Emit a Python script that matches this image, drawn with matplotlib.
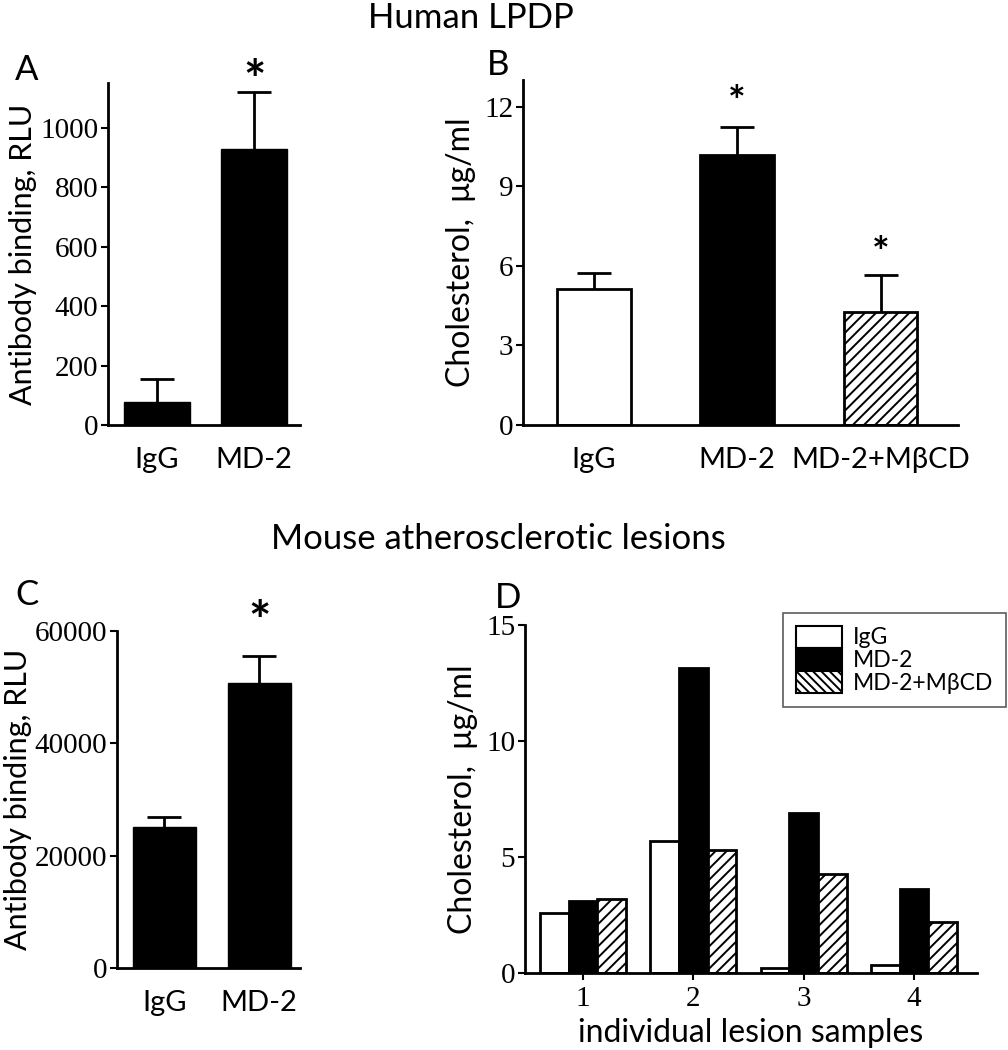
import numpy as np
import matplotlib
matplotlib.use("Agg")
import matplotlib.pyplot as plt
from matplotlib.patches import Patch

SANS = ["Lato", "DejaVu Sans"]
SERIF = ["Liberation Serif", "DejaVu Serif"]

# panel A: human LPDP antibody binding
a_groups = ["IgG", "MD-2"]
a_vals = [77, 929]
a_err = [78, 192]

# panel B: human LPDP cholesterol
b_groups = ["IgG", "MD-2", "MD-2+MβCD"]
b_vals = [5.12, 10.19, 4.25]
b_err = [0.60, 1.03, 1.41]

# panel C: mouse lesions antibody binding
c_groups = ["IgG", "MD-2"]
c_vals = [25100, 50800]
c_err = [1700, 4700]

# panel D: individual lesion samples
d_samples = [1, 2, 3, 4]
d_igg = [2.57, 5.70, 0.20, 0.34]
d_md2 = [3.10, 13.16, 6.91, 3.62]
d_mbcd = [3.19, 5.30, 4.27, 2.19]

plt.rcParams["hatch.linewidth"] = 1.4

fig = plt.figure(figsize=(10.08, 10.5), dpi=100)


def style(ax):
    for s in ["top", "right"]:
        ax.spines[s].set_visible(False)
    for s in ["left", "bottom"]:
        ax.spines[s].set_linewidth(2)
    ax.tick_params(axis="y", direction="out", length=5, width=1.5, pad=2)
    for lab in ax.get_yticklabels():
        lab.set_fontfamily(SERIF)
        lab.set_fontsize(21)


def cat_axis(ax, labels):
    ax.set_xticks(range(len(labels)))
    ax.set_xticklabels(labels, fontfamily=SANS, fontsize=21)
    ax.tick_params(axis="x", length=0, pad=16)


def errbars(ax, vals, err):
    # only the upper half of the error bar, with a cap at its top
    x = np.arange(len(vals))
    top = np.array(vals) + np.array(err)
    ax.vlines(x, vals, top, colors="k", linewidth=2, zorder=1)
    ax.plot(x, top, linestyle="none", marker="_", markersize=25,
            markeredgewidth=2, color="k", zorder=1)


# A
axA = fig.add_axes([0.1071, 0.5952, 0.1905, 0.3257])
axA.bar(range(2), a_vals, width=0.68, color="k", edgecolor="k", zorder=2)
errbars(axA, a_vals, a_err)
axA.set_ylim(0, 1150)
axA.set_xlim(-0.5, 1.47)
axA.set_yticks([0, 200, 400, 600, 800, 1000])
style(axA)
cat_axis(axA, a_groups)
axA.set_ylabel("Antibody binding, RLU", fontfamily=SANS, fontsize=22, labelpad=2)
axA.text(1, 1148, "*", ha="center", va="center", fontsize=38, fontweight="bold",
         fontfamily=SANS, clip_on=False)

# B
axB = fig.add_axes([0.5188, 0.5952, 0.4315, 0.3286])
axB.bar(range(3), b_vals, width=0.515, color=["white", "k", "white"],
        edgecolor="k", linewidth=2, hatch=[None, None, "///"], zorder=2)
errbars(axB, b_vals, b_err)
axB.set_ylim(0, 13)
axB.set_xlim(-0.495, 2.54)
axB.set_yticks([0, 3, 6, 9, 12])
style(axB)
cat_axis(axB, b_groups)
axB.set_ylabel("Cholesterol,  μg/ml", fontfamily=SANS, fontsize=23, labelpad=6)
axB.text(1, 12.1, "*", ha="center", va="center", fontsize=30, fontweight="bold",
         fontfamily=SANS)
axB.text(2, 6.4, "*", ha="center", va="center", fontsize=30, fontweight="bold",
         fontfamily=SANS)

# C
axC = fig.add_axes([0.1161, 0.0781, 0.1815, 0.3210])
axC.bar(range(2), c_vals, width=0.66, color="k", edgecolor="k", zorder=2)
errbars(axC, c_vals, c_err)
axC.set_ylim(0, 60000)
axC.set_xlim(-0.5, 1.43)
axC.set_yticks([0, 20000, 40000, 60000])
style(axC)
cat_axis(axC, c_groups)
axC.set_ylabel("Antibody binding, RLU", fontfamily=SANS, fontsize=22, labelpad=2)
axC.text(1, 61200, "*", ha="center", va="center", fontsize=38, fontweight="bold",
         fontfamily=SANS, clip_on=False)

# D
axD = fig.add_axes([0.5208, 0.0733, 0.4484, 0.3314])
x = np.array(d_samples)
w = 0.26
axD.bar(x - w, d_igg, width=w, color="white", edgecolor="k", linewidth=2, zorder=2)
axD.bar(x, d_md2, width=w, color="k", edgecolor="k", linewidth=2, zorder=2)
axD.bar(x + w, d_mbcd, width=w, color="white", edgecolor="k", linewidth=2,
        hatch="///", zorder=2)
axD.set_ylim(0, 15)
axD.set_xlim(0.475, 4.57)
axD.set_yticks([0, 5, 10, 15])
style(axD)
axD.set_xticks(d_samples)
axD.set_xticklabels([str(s) for s in d_samples], fontfamily=SERIF, fontsize=21)
axD.tick_params(axis="x", direction="out", length=5, width=1.5, pad=4)
axD.set_xlabel("individual lesion samples", fontfamily=SANS, fontsize=23, labelpad=5)
axD.set_ylabel("Cholesterol,  μg/ml", fontfamily=SANS, fontsize=23, labelpad=6)
handles = [Patch(facecolor="white", edgecolor="k", linewidth=1.5),
           Patch(facecolor="k", edgecolor="k", linewidth=1.5),
           Patch(facecolor="white", edgecolor="k", linewidth=1.5, hatch="\\\\\\\\")]
leg = fig.legend(handles, ["IgG", "MD-2", "MD-2+MβCD"],
                 loc="upper right", bbox_to_anchor=(0.998, 0.4162),
                 prop={"family": SANS, "size": 16.5}, frameon=True, fancybox=False,
                 edgecolor="#333333", handlelength=2.0, handleheight=1.1,
                 labelspacing=0.0, handletextpad=0.5, borderpad=0.55,
                 borderaxespad=0)
leg.get_frame().set_linewidth(1.2)

# titles and panel letters
fig.text(0.467, 0.983, "Human LPDP", ha="center", va="center", fontfamily=SANS,
         fontsize=25)
fig.text(0.494, 0.487, "Mouse atherosclerotic lesions", ha="center", va="center",
         fontfamily=SANS, fontsize=25)
fig.text(0.015, 0.933, "A", ha="left", va="center", fontfamily=SANS, fontsize=25)
fig.text(0.483, 0.938, "B", ha="left", va="center", fontfamily=SANS, fontsize=25)
fig.text(0.015, 0.433, "C", ha="left", va="center", fontfamily=SANS, fontsize=25)
fig.text(0.491, 0.430, "D", ha="left", va="center", fontfamily=SANS, fontsize=25)

fig.savefig("out.png", dpi=100)
